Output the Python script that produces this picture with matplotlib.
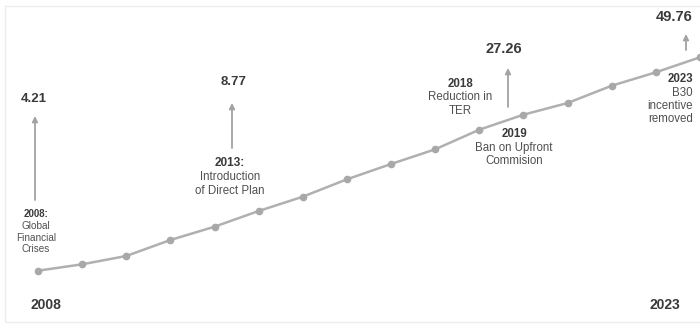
import matplotlib
matplotlib.use('Agg')
import matplotlib.pyplot as plt
from matplotlib.patches import Rectangle

plt.rcParams['font.family'] = ['Liberation Sans', 'DejaVu Sans']

# years and the (unscaled) level of the line as drawn in the picture
years = list(range(2008, 2024))
level = [53.3, 59.7, 68.0, 84.0, 97.3, 113.0, 127.3, 144.7,
         160.0, 174.7, 194.3, 209.3, 221.0, 238.3, 251.7, 266.7]

# milestone values (bold numbers above the arrows)
milestones = ['4.21', '8.77', '27.26', '49.76']
events = [('2008:', 'Global\nFinancial\nCrises'),
          ('2013:', 'Introduction\nof Direct Plan'),
          ('2018', 'Reduction in\nTER'),
          ('2019', 'Ban on Upfront\nCommision'),
          ('2023', 'B30\nincentive\nremoved')]
end_labels = ['2008', '2023']

W, H = 700, 324
fig = plt.figure(figsize=(W / 100, H / 100), dpi=100)
ax = fig.add_axes([0, 0, 1, 1])
ax.set_xlim(2008 - 38 / 44.13, 2023)
ax.set_ylim(0, H)
ax.axis('off')

line_col = '#b0b0b0'
dark = '#3a3a3a'
mid = '#505050'
arrow_col = '#a3a3a3'

ax.plot(years, level, color=line_col, lw=1.8, marker='o', ms=4.5,
        mfc='#a8a8a8', mec='#a8a8a8', clip_on=False, zorder=3)

# helper: pixel position -> axes fraction
def P(x, y):
    return (x / W, 1 - y / H)

T = ax.transAxes

# milestone numbers
num_pos = [(34, 99, 9.5), (234, 82, 9.5), (504, 49, 10.5), (674, 17, 10.5)]
for txt, (x, y, fs) in zip(milestones, num_pos):
    ax.text(*P(x, y), txt, transform=T, ha='center', va='center',
            fontsize=fs, fontweight='bold', color=dark)

# arrows
arrows = [(35, 200, 116), (232, 148, 103), (508, 107, 68), (686, 50, 34)]
for x, y0, y1 in arrows:
    ax.annotate('', xy=P(x, y1), xytext=P(x, y0), xycoords=T, textcoords=T,
                arrowprops=dict(arrowstyle='-|>', color=arrow_col, lw=1.3,
                                mutation_scale=8, shrinkA=0, shrinkB=0))

# event notes: (x, y of header, line step, header size, body size, align)
ev_pos = [(36, 214, 11.8, 7.0, 7.2, 'center'),
          (230, 163, 14, 8.5, 8.3, 'center'),
          (460, 84, 13.5, 8.3, 8.3, 'center'),
          (514, 134, 13.5, 8.3, 8.3, 'center'),
          (693, 79, 13.5, 8.3, 8.3, 'right')]
for (head, body), (x, y, step, fh, fb, ha) in zip(events, ev_pos):
    ax.text(*P(x, y), head, transform=T,
            ha=ha, va='center', fontsize=fh, fontweight='bold', color=dark)
    for i, ln in enumerate(body.split('\n')):
        ax.text(*P(x, y + step * (i + 1)), ln, transform=T, ha=ha,
                va='center', fontsize=fb, color=mid)

# first and last year at the bottom
for txt, x in zip(end_labels, [46, 665]):
    ax.text(*P(x, 305), txt, transform=T, ha='center', va='center',
            fontsize=10, fontweight='bold', color=dark)

fig.patches.append(Rectangle((5 / W, 2 / H), 1, 1 - 8 / H, transform=fig.transFigure,
                             fill=False, ec='#ededed', lw=1))

fig.savefig('out.png', dpi=100, facecolor='white')
